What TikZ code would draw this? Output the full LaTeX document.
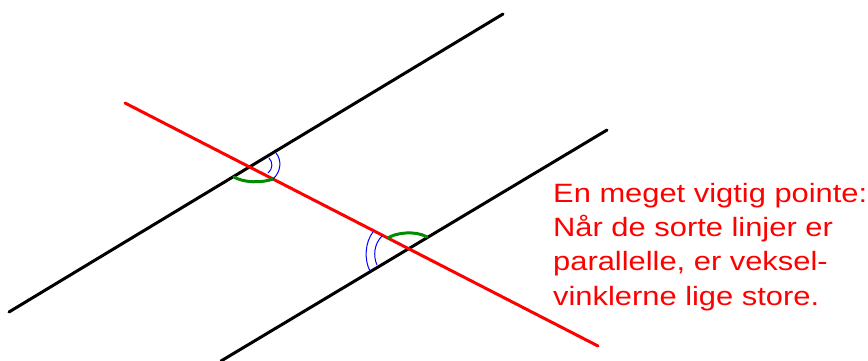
\documentclass[tikz,border=0pt]{standalone}
\usepackage{fontspec}
\setmainfont{Liberation Sans}
\newfontfamily\widesans{Liberation Sans}[FakeStretch=1.165]
\definecolor{mygreen}{RGB}{0,140,0}
\begin{document}
\begin{tikzpicture}[x=1pt,y=-1pt,
  blackline/.style={line width=3pt,line cap=round,black},
  redline/.style={line width=3pt,line cap=round,red},
  greenmark/.style={line width=3pt,line cap=round,mygreen},
  bluemark/.style={line width=1pt,blue},
  note/.style={text=red,align=left,inner sep=0pt,font=\widesans\fontsize{26.5}{34.3}\selectfont}]
\useasboundingbox (0,0) rectangle (868,360);
\coordinate (a1) at (9,312);
\coordinate (a2) at (503,14);
\coordinate (b1) at (221,361);
\coordinate (b2) at (607,130);
\coordinate (r1) at (125,103);
\coordinate (r2) at (598,346);
\draw[blackline] (a1) -- (a2);
\draw[blackline] (b1) -- (b2);
\draw[redline] (r1) -- (r2);
% upper intersection marks
\coordinate (g1s) at (234,177);
\coordinate (g1e) at (273,179);
\draw[greenmark] (g1s) .. controls (244,183) and (262,183) .. (g1e);
\coordinate (u1s) at (276,153);
\coordinate (u1e) at (273,179);
\draw[bluemark] (u1s) .. controls (282,160) and (281,172) .. (u1e);
\coordinate (u2s) at (269,158);
\coordinate (u2e) at (268,173);
\draw[bluemark] (u2s) .. controls (273,162) and (273,169) .. (u2e);
% lower intersection marks
\coordinate (g2s) at (388,238);
\coordinate (g2e) at (427,237);
\draw[greenmark] (g2s) .. controls (395,233) and (415,230) .. (g2e);
\coordinate (l1s) at (373,232);
\coordinate (l1e) at (370,271);
\draw[bluemark] (l1s) .. controls (365,242) and (364,260) .. (l1e);
\coordinate (l2s) at (382,236);
\coordinate (l2e) at (377,265);
\draw[bluemark] (l2s) .. controls (374,244) and (373,256) .. (l2e);
\node[note,anchor=base west] (txt) at (553,305) {En meget vigtig pointe:\\Når de sorte linjer er\\parallelle, er veksel-\\vinklerne lige store.};
\end{tikzpicture}
\end{document}
